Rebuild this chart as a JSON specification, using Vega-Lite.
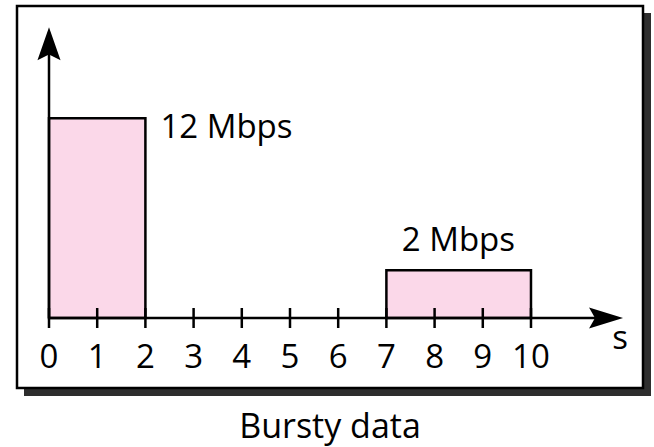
{
  "$schema": "https://vega.github.io/schema/vega-lite/v6.json",
  "width": 626,
  "height": 382,
  "autosize": {"type": "none"},
  "padding": {"left": 17, "top": 6, "right": 11, "bottom": 59},
  "config": {"view": {"stroke": null}, "font": "Open Sans", "text": {"font": "Open Sans", "color": "black"}},
  "title": {"text": "Bursty data", "orient": "bottom", "frame": "group", "anchor": "middle", "fontSize": 34, "fontWeight": "normal", "font": "Open Sans", "color": "black", "baseline": "alphabetic", "offset": 42},
  "datasets": {
    "bursts": [
      {"start": 0, "end": 2, "rate": 12, "label": "12 Mbps"},
      {"start": 7, "end": 10, "rate": 2, "label": "2 Mbps"}
    ],
    "ticks": [{"t": 0}, {"t": 1}, {"t": 2}, {"t": 3}, {"t": 4}, {"t": 5}, {"t": 6}, {"t": 7}, {"t": 8}, {"t": 9}, {"t": 10}],
    "one": [{}]
  },
  "layer": [
    {
      "data": {"name": "one"},
      "mark": {"type": "rect", "fill": "#2e2e2e", "xOffset": 7, "x2Offset": 8, "yOffset": 8, "y2Offset": 7},
      "encoding": {
        "x": {"datum": -0.664, "type": "quantitative", "scale": {"domain": [-0.664, 12.324], "nice": false, "zero": false}, "axis": null},
        "x2": {"datum": 12.324},
        "y": {"datum": -3.234, "type": "quantitative", "scale": {"type": "pow", "exponent": 0.8, "domain": [-3.234, 20.95], "nice": false, "zero": false}, "axis": null},
        "y2": {"datum": 20.95}
      }
    },
    {
      "data": {"name": "one"},
      "mark": {"type": "rect", "fill": "white", "stroke": "black", "strokeWidth": 2.5},
      "encoding": {
        "x": {"datum": -0.664, "type": "quantitative", "axis": null},
        "x2": {"datum": 12.324},
        "y": {"datum": -3.234, "type": "quantitative", "axis": null},
        "y2": {"datum": 20.95}
      }
    },
    {
      "data": {"name": "bursts"},
      "mark": {"type": "rect", "fill": "#FBD8E9", "stroke": "black", "strokeWidth": 2.5},
      "encoding": {
        "x": {"field": "start", "type": "quantitative", "axis": null},
        "x2": {"field": "end"},
        "y": {"field": "rate", "type": "quantitative", "axis": null},
        "y2": {"datum": 0}
      }
    },
    {
      "data": {"name": "one"},
      "mark": {"type": "rule", "stroke": "black", "strokeWidth": 2.5},
      "encoding": {
        "x": {"datum": 0, "type": "quantitative", "axis": null},
        "x2": {"datum": 11.5},
        "y": {"datum": 0, "type": "quantitative", "axis": null}
      }
    },
    {
      "data": {"name": "one"},
      "mark": {"type": "rule", "stroke": "black", "strokeWidth": 2.5},
      "encoding": {
        "x": {"datum": 0, "type": "quantitative", "axis": null},
        "y": {"datum": 0, "type": "quantitative", "axis": null},
        "y2": {"datum": 17.7}
      }
    },
    {
      "data": {"name": "ticks"},
      "mark": {"type": "tick", "orient": "vertical", "size": 20, "thickness": 2.5, "color": "black", "opacity": 1},
      "encoding": {
        "x": {"field": "t", "type": "quantitative", "axis": null},
        "y": {"datum": 0, "type": "quantitative", "axis": null}
      }
    },
    {
      "data": {"name": "ticks"},
      "mark": {"type": "text", "fontSize": 33, "align": "center", "baseline": "alphabetic", "dy": 50, "color": "black"},
      "encoding": {
        "x": {"field": "t", "type": "quantitative", "axis": null},
        "y": {"datum": 0, "type": "quantitative", "axis": null},
        "text": {"field": "t", "type": "quantitative"}
      }
    },
    {
      "data": {"name": "bursts"},
      "transform": [{"filter": "datum.rate == 12"}],
      "mark": {"type": "text", "fontSize": 33, "align": "left", "baseline": "alphabetic", "dx": 15, "dy": 20, "color": "black"},
      "encoding": {
        "x": {"field": "end", "type": "quantitative", "axis": null},
        "y": {"field": "rate", "type": "quantitative", "axis": null},
        "text": {"field": "label"}
      }
    },
    {
      "data": {"name": "bursts"},
      "transform": [{"filter": "datum.rate == 2"}],
      "mark": {"type": "text", "fontSize": 33, "align": "center", "baseline": "alphabetic", "dx": 72, "dy": -19, "color": "black"},
      "encoding": {
        "x": {"field": "start", "type": "quantitative", "axis": null},
        "y": {"field": "rate", "type": "quantitative", "axis": null},
        "text": {"field": "label"}
      }
    },
    {
      "data": {"name": "one"},
      "mark": {"type": "text", "fontSize": 33, "align": "center", "baseline": "alphabetic", "dy": 31, "text": "s", "color": "black"},
      "encoding": {
        "x": {"datum": 11.85, "type": "quantitative", "axis": null},
        "y": {"datum": 0, "type": "quantitative", "axis": null}
      }
    },
    {
      "data": {"name": "one"},
      "mark": {"type": "point", "shape": "M0,0 L0.7,2 L0,1.65 L-0.7,2 Z", "size": 1089, "filled": true, "fill": "black", "opacity": 1, "strokeWidth": 0},
      "encoding": {
        "x": {"datum": 0, "type": "quantitative", "axis": null},
        "y": {"datum": 19.19, "type": "quantitative", "axis": null}
      }
    },
    {
      "data": {"name": "one"},
      "mark": {"type": "point", "shape": "M0,0 L-2,-0.62 L-1.65,0 L-2,0.62 Z", "size": 1156, "filled": true, "fill": "black", "opacity": 1, "strokeWidth": 0},
      "encoding": {
        "x": {"datum": 11.91, "type": "quantitative", "axis": null},
        "y": {"datum": 0, "type": "quantitative", "axis": null}
      }
    }
  ]
}
